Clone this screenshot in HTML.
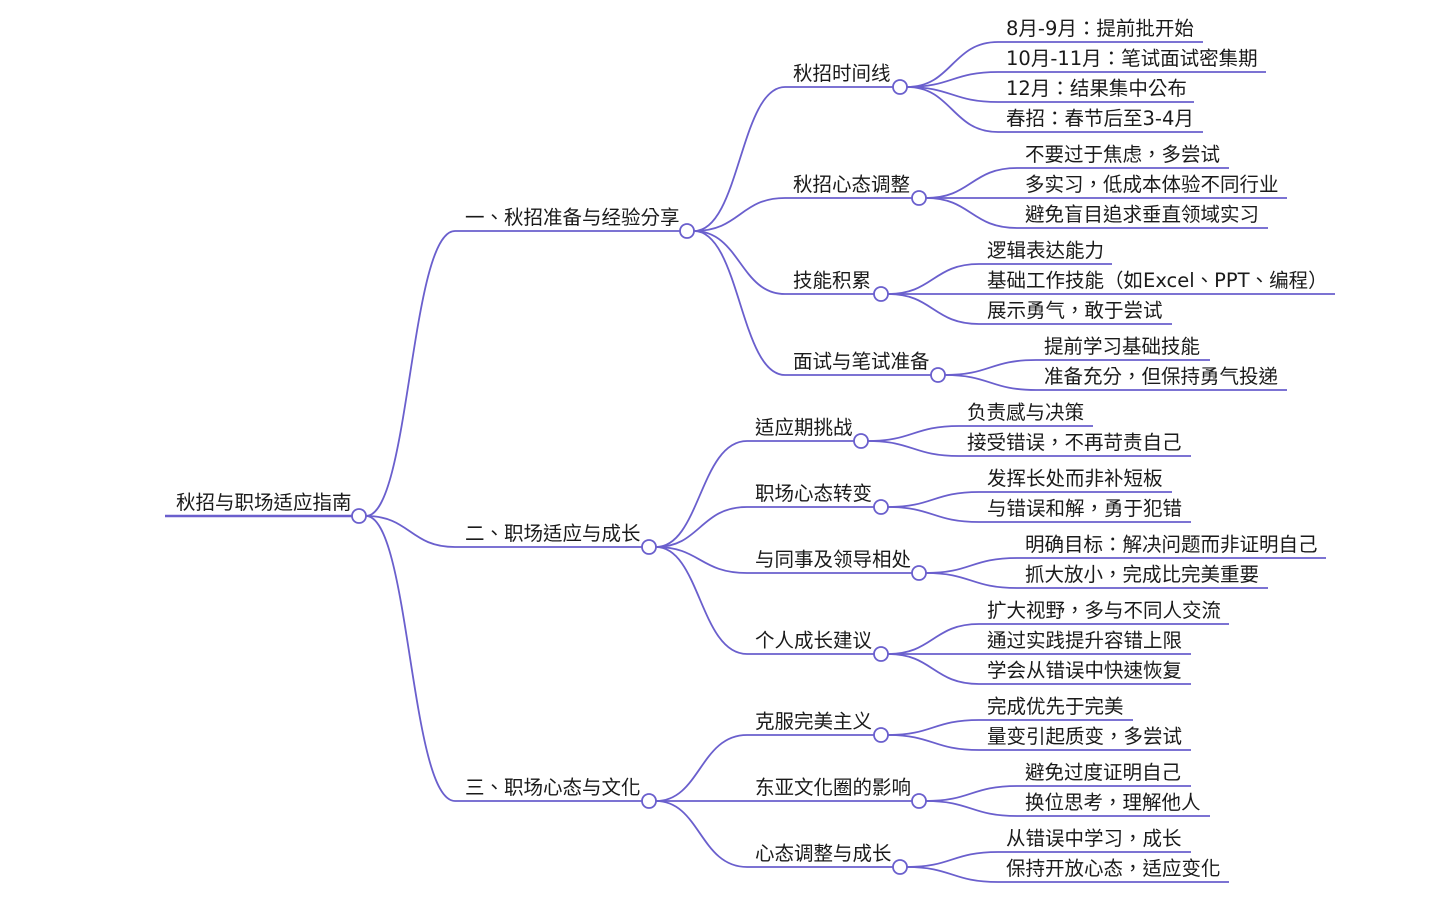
<!DOCTYPE html>
<html><head><meta charset="utf-8"><style>
html,body{margin:0;padding:0;background:#fff;}
svg{display:block}
text{font-family:"DejaVu Sans","Noto Sans CJK TC",sans-serif;font-size:19.5px;fill:#1a1a1a;}
path,line{stroke:#6a5fcd;fill:none;stroke-width:1.8;}
circle{stroke:#6a5fcd;fill:#fff;stroke-width:1.8;}
</style></head><body>
<svg width="1433" height="903" viewBox="0 0 1433 903" xmlns="http://www.w3.org/2000/svg">
<line x1="165" y1="516" x2="352" y2="516" style="stroke-width:2.4"/>
<text x="176" y="509">秋招与职场适应指南</text>
<path d="M366 516 C410 516 410 231 455 231"/>
<path d="M366 516 C410 516 410 547 455 547"/>
<path d="M366 516 C410 516 410 801 455 801"/>

<line x1="455" y1="231" x2="680" y2="231"/><text x="465" y="224">一、秋招准备与经验分享</text>
<line x1="455" y1="547" x2="642" y2="547"/><text x="465" y="540">二、职场适应与成长</text>
<line x1="455" y1="801" x2="642" y2="801"/><text x="465" y="794">三、职场心态与文化</text>

<path d="M694 231 C740 231 740 87 785 87"/>
<path d="M694 231 C740 231 740 198 785 198"/>
<path d="M694 231 C740 231 740 294 785 294"/>
<path d="M694 231 C740 231 740 375 785 375"/>
<line x1="785" y1="87" x2="893" y2="87"/><text x="793" y="80">秋招时间线</text>
<line x1="785" y1="198" x2="912" y2="198"/><text x="793" y="191">秋招心态调整</text>
<line x1="785" y1="294" x2="874" y2="294"/><text x="793" y="287">技能积累</text>
<line x1="785" y1="375" x2="931" y2="375"/><text x="793" y="368">面试与笔试准备</text>

<path d="M907 87 C952 87 952 42 998 42"/>
<path d="M907 87 C952 87 952 72 998 72"/>
<path d="M907 87 C952 87 952 102 998 102"/>
<path d="M907 87 C952 87 952 132 998 132"/>
<line x1="998" y1="42" x2="1203" y2="42"/><text x="1006" y="35">8月-9月：提前批开始</text>
<line x1="998" y1="72" x2="1266" y2="72"/><text x="1006" y="65">10月-11月：笔试面试密集期</text>
<line x1="998" y1="102" x2="1194" y2="102"/><text x="1006" y="95">12月：结果集中公布</text>
<line x1="998" y1="132" x2="1203" y2="132"/><text x="1006" y="125">春招：春节后至3-4月</text>

<path d="M926 198 C971 198 971 168 1017 168"/>
<path d="M926 198 C971 198 971 198 1017 198"/>
<path d="M926 198 C971 198 971 228 1017 228"/>
<line x1="1017" y1="168" x2="1229" y2="168"/><text x="1025" y="161">不要过于焦虑，多尝试</text>
<line x1="1017" y1="198" x2="1287" y2="198"/><text x="1025" y="191">多实习，低成本体验不同行业</text>
<line x1="1017" y1="228" x2="1268" y2="228"/><text x="1025" y="221">避免盲目追求垂直领域实习</text>

<path d="M888 294 C933 294 933 264 979 264"/>
<path d="M888 294 C933 294 933 294 979 294"/>
<path d="M888 294 C933 294 933 324 979 324"/>
<line x1="979" y1="264" x2="1112" y2="264"/><text x="987" y="257">逻辑表达能力</text>
<line x1="979" y1="294" x2="1335" y2="294"/><text x="987" y="287">基础工作技能（如Excel、PPT、编程）</text>
<line x1="979" y1="324" x2="1172" y2="324"/><text x="987" y="317">展示勇气，敢于尝试</text>

<path d="M945 375 C990 375 990 360 1036 360"/>
<path d="M945 375 C990 375 990 390 1036 390"/>
<line x1="1036" y1="360" x2="1210" y2="360"/><text x="1044" y="353">提前学习基础技能</text>
<line x1="1036" y1="390" x2="1287" y2="390"/><text x="1044" y="383">准备充分，但保持勇气投递</text>

<path d="M656 547 C700 547 700 441 747 441"/>
<path d="M656 547 C700 547 700 507 747 507"/>
<path d="M656 547 C700 547 700 573 747 573"/>
<path d="M656 547 C700 547 700 654 747 654"/>
<line x1="747" y1="441" x2="854" y2="441"/><text x="755" y="434">适应期挑战</text>
<line x1="747" y1="507" x2="874" y2="507"/><text x="755" y="500">职场心态转变</text>
<line x1="747" y1="573" x2="912" y2="573"/><text x="755" y="566">与同事及领导相处</text>
<line x1="747" y1="654" x2="874" y2="654"/><text x="755" y="647">个人成长建议</text>

<path d="M868 441 C913 441 913 426 959 426"/>
<path d="M868 441 C913 441 913 456 959 456"/>
<line x1="959" y1="426" x2="1093" y2="426"/><text x="967" y="419">负责感与决策</text>
<line x1="959" y1="456" x2="1191" y2="456"/><text x="967" y="449">接受错误，不再苛责自己</text>

<path d="M888 507 C933 507 933 492 979 492"/>
<path d="M888 507 C933 507 933 522 979 522"/>
<line x1="979" y1="492" x2="1172" y2="492"/><text x="987" y="485">发挥长处而非补短板</text>
<line x1="979" y1="522" x2="1191" y2="522"/><text x="987" y="515">与错误和解，勇于犯错</text>

<path d="M926 573 C971 573 971 558 1017 558"/>
<path d="M926 573 C971 573 971 588 1017 588"/>
<line x1="1017" y1="558" x2="1326" y2="558"/><text x="1025" y="551">明确目标：解决问题而非证明自己</text>
<line x1="1017" y1="588" x2="1268" y2="588"/><text x="1025" y="581">抓大放小，完成比完美重要</text>

<path d="M888 654 C933 654 933 624 979 624"/>
<path d="M888 654 C933 654 933 654 979 654"/>
<path d="M888 654 C933 654 933 684 979 684"/>
<line x1="979" y1="624" x2="1229" y2="624"/><text x="987" y="617">扩大视野，多与不同人交流</text>
<line x1="979" y1="654" x2="1191" y2="654"/><text x="987" y="647">通过实践提升容错上限</text>
<line x1="979" y1="684" x2="1191" y2="684"/><text x="987" y="677">学会从错误中快速恢复</text>

<path d="M656 801 C700 801 700 735 747 735"/>
<path d="M656 801 C700 801 700 801 747 801"/>
<path d="M656 801 C700 801 700 867 747 867"/>
<line x1="747" y1="735" x2="874" y2="735"/><text x="755" y="728">克服完美主义</text>
<line x1="747" y1="801" x2="912" y2="801"/><text x="755" y="794">东亚文化圈的影响</text>
<line x1="747" y1="867" x2="893" y2="867"/><text x="755" y="860">心态调整与成长</text>

<path d="M888 735 C933 735 933 720 979 720"/>
<path d="M888 735 C933 735 933 750 979 750"/>
<line x1="979" y1="720" x2="1133" y2="720"/><text x="987" y="713">完成优先于完美</text>
<line x1="979" y1="750" x2="1191" y2="750"/><text x="987" y="743">量变引起质变，多尝试</text>

<path d="M926 801 C971 801 971 786 1017 786"/>
<path d="M926 801 C971 801 971 816 1017 816"/>
<line x1="1017" y1="786" x2="1191" y2="786"/><text x="1025" y="779">避免过度证明自己</text>
<line x1="1017" y1="816" x2="1210" y2="816"/><text x="1025" y="809">换位思考，理解他人</text>

<path d="M907 867 C952 867 952 852 998 852"/>
<path d="M907 867 C952 867 952 882 998 882"/>
<line x1="998" y1="852" x2="1191" y2="852"/><text x="1006" y="845">从错误中学习，成长</text>
<line x1="998" y1="882" x2="1229" y2="882"/><text x="1006" y="875">保持开放心态，适应变化</text>

<circle cx="359" cy="516" r="7"/>
<circle cx="687" cy="231" r="7"/>
<circle cx="649" cy="547" r="7"/>
<circle cx="649" cy="801" r="7"/>
<circle cx="900" cy="87" r="7"/>
<circle cx="919" cy="198" r="7"/>
<circle cx="881" cy="294" r="7"/>
<circle cx="938" cy="375" r="7"/>
<circle cx="861" cy="441" r="7"/>
<circle cx="881" cy="507" r="7"/>
<circle cx="919" cy="573" r="7"/>
<circle cx="881" cy="654" r="7"/>
<circle cx="881" cy="735" r="7"/>
<circle cx="919" cy="801" r="7"/>
<circle cx="900" cy="867" r="7"/>
</svg>
</body></html>
